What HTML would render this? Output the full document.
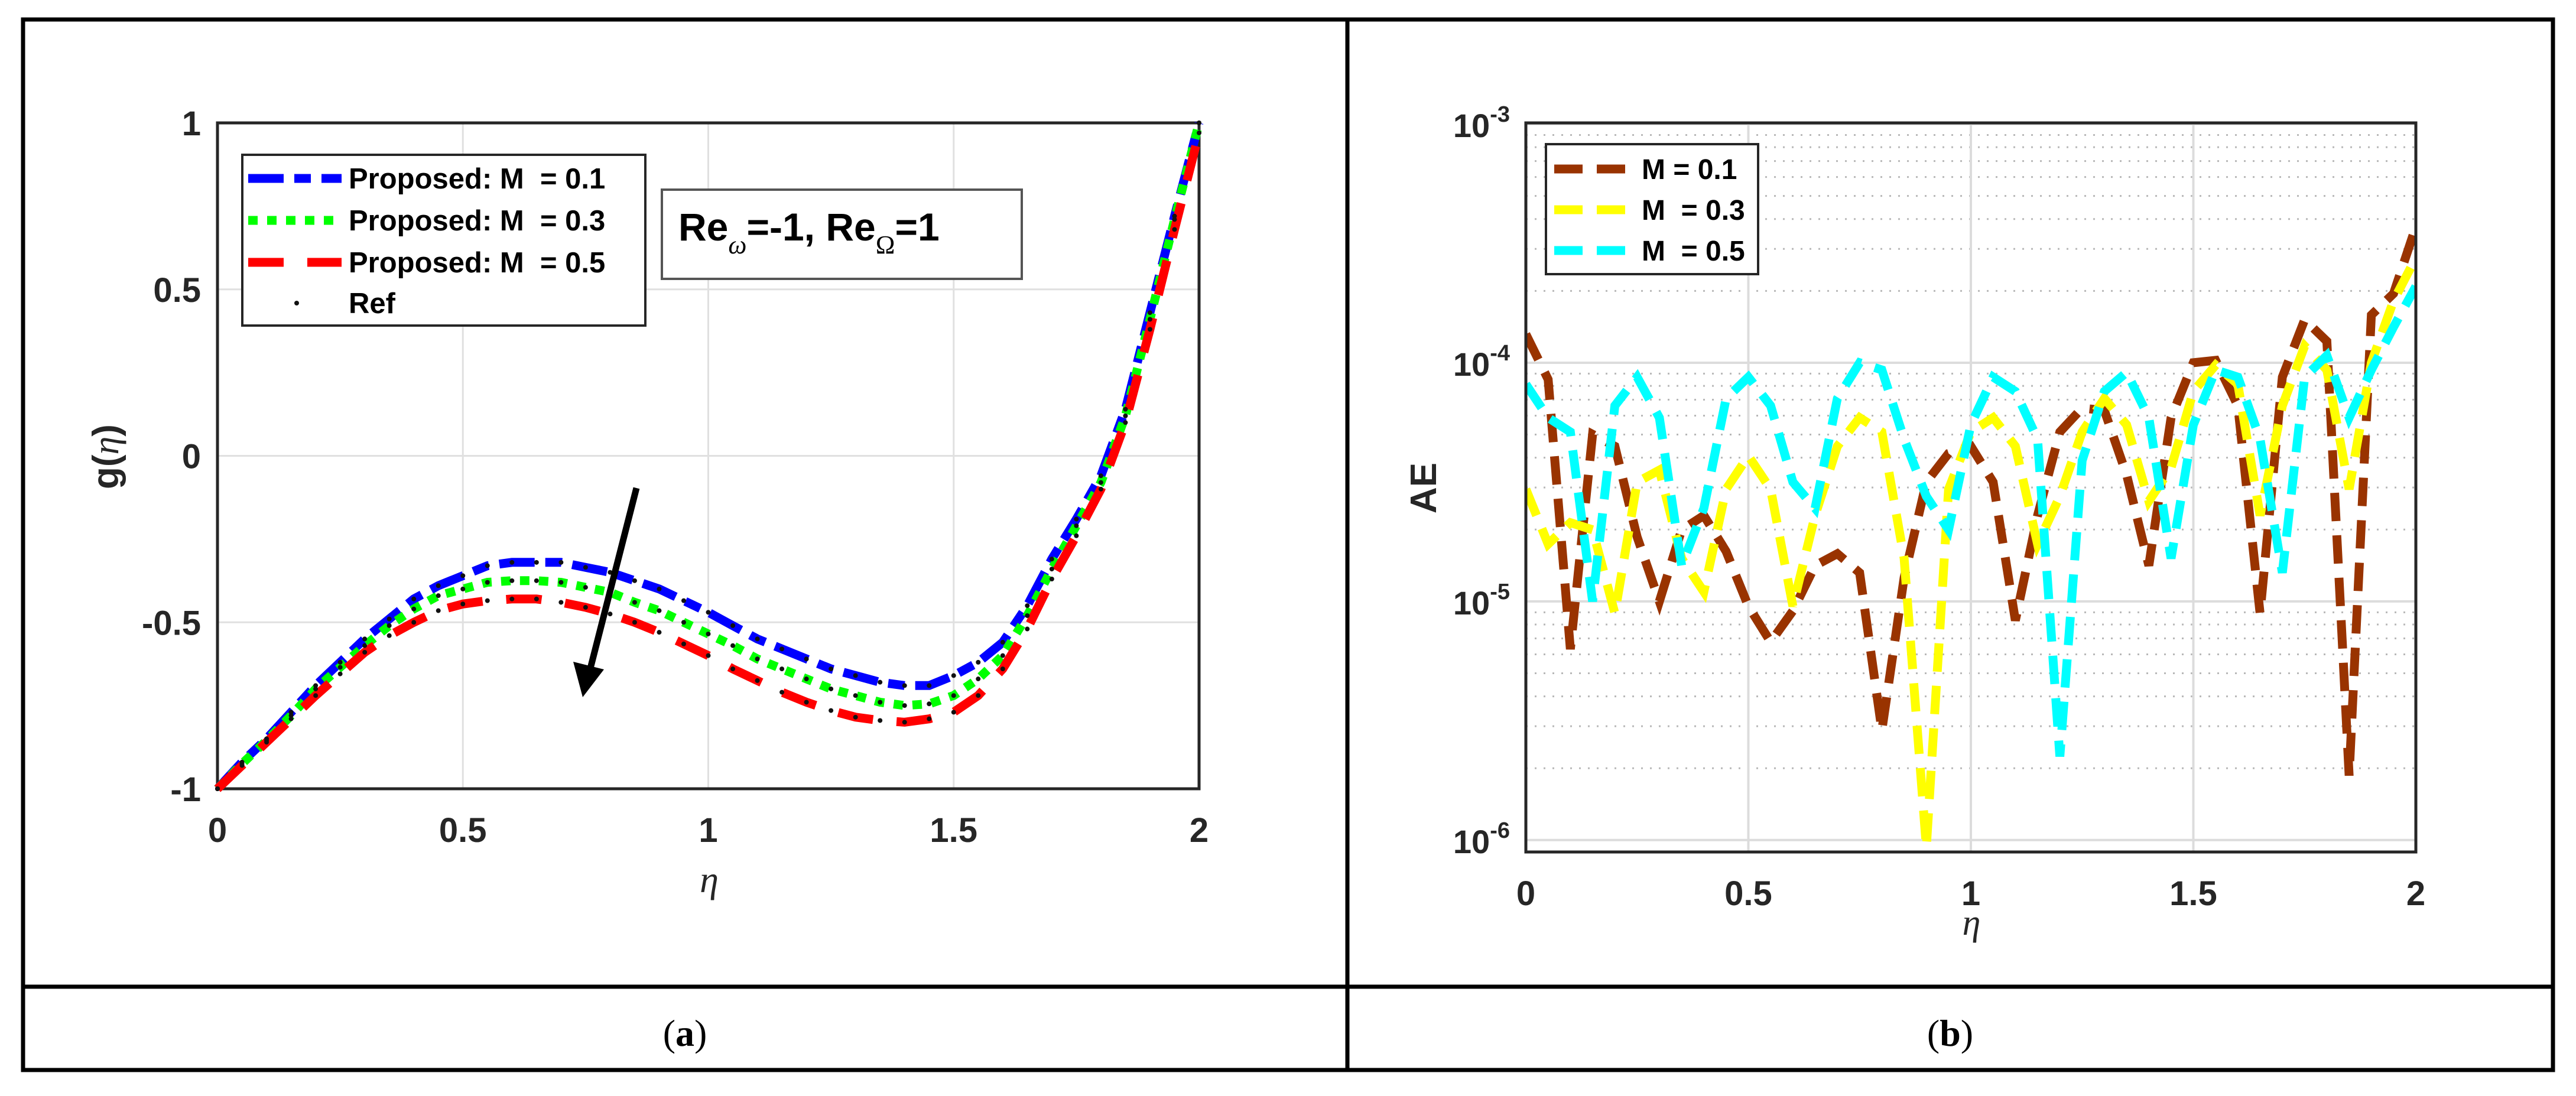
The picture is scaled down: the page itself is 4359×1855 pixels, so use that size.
<!DOCTYPE html>
<html><head><meta charset="utf-8"><style>
html,body{margin:0;padding:0;background:#fff;}
svg text{font-family:"Liberation Sans",sans-serif;white-space:pre;}
</style></head><body>
<svg id="fig" width="4359" height="1850" viewBox="0 0 4359 1850" xmlns="http://www.w3.org/2000/svg">
<rect x="0" y="0" width="4359" height="1850" fill="#fff"/>
<g id="frame" stroke="#000" stroke-width="7" fill="none">
<rect x="39" y="33" width="4281" height="1778"/>
<line x1="2280" y1="33" x2="2280" y2="1811"/>
<line x1="39" y1="1670" x2="4320" y2="1670"/>
</g>
<text x="1159" y="1770" text-anchor="middle" font-size="64" style="font-family:'Liberation Serif',serif">(<tspan font-weight="bold">a</tspan>)</text>
<text x="3300" y="1770" text-anchor="middle" font-size="64" style="font-family:'Liberation Serif',serif">(<tspan font-weight="bold">b</tspan>)</text>
<g id="plotA"></g>
<g id="plotB"></g>
</svg>
<script>
// ---------- Chart (a) data ----------
const etaA = [0,0.05,0.1,0.15,0.2,0.25,0.3,0.35,0.4,0.45,0.5,0.55,0.6,0.65,0.7,0.75,0.8,0.85,0.9,0.95,1.0,1.05,1.1,1.15,1.2,1.25,1.3,1.35,1.4,1.45,1.5,1.55,1.6,1.65,1.7,1.75,1.8,1.85,1.9,1.95,2.0];
const gM01 = [-1,-0.92,-0.85,-0.77,-0.69,-0.62,-0.55,-0.49,-0.43,-0.39,-0.36,-0.33,-0.32,-0.32,-0.32,-0.335,-0.35,-0.375,-0.40,-0.435,-0.47,-0.51,-0.55,-0.58,-0.61,-0.64,-0.66,-0.68,-0.69,-0.69,-0.66,-0.62,-0.56,-0.45,-0.31,-0.19,-0.06,0.14,0.43,0.72,1.0];
const gM03 = [-1,-0.925,-0.855,-0.78,-0.70,-0.635,-0.57,-0.51,-0.46,-0.42,-0.40,-0.38,-0.375,-0.375,-0.38,-0.395,-0.41,-0.44,-0.465,-0.50,-0.535,-0.57,-0.61,-0.64,-0.67,-0.70,-0.72,-0.74,-0.75,-0.745,-0.72,-0.67,-0.60,-0.48,-0.34,-0.21,-0.08,0.12,0.41,0.71,1.0];
const gM05 = [-1,-0.93,-0.86,-0.79,-0.72,-0.655,-0.59,-0.54,-0.50,-0.465,-0.445,-0.435,-0.43,-0.43,-0.44,-0.455,-0.475,-0.50,-0.53,-0.565,-0.60,-0.64,-0.675,-0.71,-0.74,-0.765,-0.785,-0.795,-0.80,-0.79,-0.77,-0.72,-0.64,-0.52,-0.37,-0.24,-0.10,0.10,0.38,0.68,0.97];
const xTicksA = [0,0.5,1,1.5,2];
const xTickLabelsA = ["0","0.5","1","1.5","2"];
const yTicksA = [-1,-0.5,0,0.5,1];
const yTickLabelsA = ["-1","-0.5","0","0.5","1"];

// ---------- Chart (b) data (log10 of AE) ----------
const etaB = etaA;
const log10AE_M01 = [-3.88,-4.07,-5.2,-4.3,-4.35,-4.73,-5.0,-4.70,-4.64,-4.79,-5.02,-5.17,-5.04,-4.85,-4.80,-4.88,-5.54,-4.9,-4.5,-4.38,-4.35,-4.5,-5.08,-4.64,-4.29,-4.19,-4.2,-4.47,-4.85,-4.23,-4.0,-3.99,-4.18,-5.05,-4.06,-3.82,-3.91,-5.73,-3.80,-3.71,-3.43];
const log10AE_M03 = [-4.53,-4.76,-4.67,-4.7,-5.05,-4.5,-4.45,-4.82,-4.96,-4.53,-4.39,-4.53,-5.02,-4.64,-4.35,-4.23,-4.29,-4.82,-6.03,-4.53,-4.29,-4.23,-4.35,-4.76,-4.56,-4.29,-4.15,-4.26,-4.58,-4.44,-4.12,-4.01,-4.09,-4.64,-4.18,-3.93,-4.03,-4.53,-4.0,-3.74,-3.56];
const log10AE_M05 = [-4.09,-4.23,-4.29,-5.0,-4.18,-4.06,-4.23,-4.85,-4.61,-4.15,-4.06,-4.18,-4.5,-4.61,-4.15,-4.0,-4.03,-4.32,-4.56,-4.7,-4.26,-4.06,-4.12,-4.32,-5.65,-4.41,-4.12,-4.04,-4.23,-4.82,-4.26,-4.03,-4.06,-4.32,-4.88,-4.06,-3.97,-4.23,-4.03,-3.85,-3.68];
const xTicksB = [0,0.5,1,1.5,2];
const xTickLabelsB = ["0","0.5","1","1.5","2"];
const yDecadesB = [-6,-5,-4,-3];

const NS = "http://www.w3.org/2000/svg";
function mk(parent, tag, attrs, text){
  const e = document.createElementNS(NS, tag);
  for (const k in attrs) e.setAttribute(k, attrs[k]);
  if (text !== undefined) e.textContent = text;
  parent.appendChild(e);
  return e;
}

// ===== Chart A =====
(function(){
  const g = document.getElementById('plotA');
  const L=368,R=2029,T=208,B=1335;
  const xs = v => L + (v-0)/(2-0)*(R-L);
  const ys = v => B - (v-(-1))/(1-(-1))*(B-T);
  xTicksA.forEach((t,i)=>{
    const ln = mk(g,'line',{x1:xs(t),y1:T,x2:xs(t),y2:B,stroke:'#e0e0e0','stroke-width':3});
    
    
    const tk = mk(g,'text',{x:xs(t),y:1425,'text-anchor':'middle','font-size':58,'font-weight':'bold',fill:'#262626'},xTickLabelsA[i]);
    
    
  });
  yTicksA.forEach((t,i)=>{
    const ln = mk(g,'line',{x1:L,y1:ys(t),x2:R,y2:ys(t),stroke:'#e0e0e0','stroke-width':3});
    
    
    const tk = mk(g,'text',{x:340,y:ys(t)+21,'text-anchor':'end','font-size':58,'font-weight':'bold',fill:'#262626'},yTickLabelsA[i]);
    
    
  });
  const ax = mk(g,'rect',{x:L,y:T,width:R-L,height:B-T,fill:'none',stroke:'#262626','stroke-width':5});
  
  
  const series = [
    {d:gM01,c:'#0000ff',dash:'60 18 28 18',name:'line-m01'},
    {d:gM03,c:'#00ff00',dash:'16 16',name:'line-m03'},
    {d:gM05,c:'#ff0000',dash:'60 40',name:'line-m05'}
  ];
  series.forEach(s=>{
    const pts = etaA.map((x,i)=>xs(x).toFixed(1)+','+ys(s.d[i]).toFixed(1)).join(' ');
    const p = mk(g,'polyline',{points:pts,fill:'none',stroke:s.c,'stroke-width':15,'stroke-dasharray':s.dash});
    
    
  });
  series.forEach(s=>{
    etaA.forEach((x,i)=>{
      const c = mk(g,'circle',{cx:xs(x),cy:ys(s.d[i]),r:4,fill:'#111'});
      
      
    });
  });
  const ar = mk(g,'line',{x1:1077,y1:826,x2:998,y2:1135,stroke:'#000','stroke-width':11});
  
  
  const ah = mk(g,'polygon',{points:'986,1180 970,1120 1022,1133',fill:'#000'});
  
  
  const xl = mk(g,'text',{x:1200,y:1510,'text-anchor':'middle','font-size':64,'font-style':'italic',style:"font-family:'Liberation Serif',serif",fill:'#262626'},'η');
  
  
  const yl = mk(g,'text',{x:0,y:0,'text-anchor':'middle','font-size':62,'font-weight':'bold',fill:'#262626',transform:'translate(200,773) rotate(-90)'});
  
  
  yl.innerHTML = 'g(<tspan style="font-family:\'Liberation Serif\',serif" font-style="italic" font-weight="normal">η</tspan>)';
  const lg = mk(g,'g',{});
  
  
  mk(lg,'rect',{x:410,y:262,width:682,height:289,fill:'#fff',stroke:'#262626','stroke-width':4});
  const rows=[302,373,444,513];
  const labels=['Proposed: M  = 0.1','Proposed: M  = 0.3','Proposed: M  = 0.5','Ref'];
  series.forEach((s,i)=>{
    const l = mk(lg,'line',{x1:420,y1:rows[i],x2:578,y2:rows[i],stroke:s.c,'stroke-width':15,'stroke-dasharray':s.dash});
    
    
  });
  mk(lg,'circle',{cx:502,cy:rows[3],r:4,fill:'#111'});
  labels.forEach((t,i)=>{
    const e = mk(lg,'text',{x:590,y:rows[i]+17,'font-size':49,'font-weight':'bold',fill:'#000'},t);
    
    
  });
  const an = mk(g,'g',{});
  
  
  mk(an,'rect',{x:1120,y:321,width:609,height:151,fill:'#fff',stroke:'#555','stroke-width':4});
  const at = mk(an,'text',{x:1148,y:407,'font-size':66,'font-weight':'bold',fill:'#000'});
  at.innerHTML = 'Re<tspan dy="22" font-size="44" font-style="italic" font-weight="normal" style="font-family:\'Liberation Serif\',serif">ω</tspan><tspan dy="-22">=-1, Re</tspan><tspan dy="22" font-size="44" font-weight="normal" style="font-family:\'Liberation Serif\',serif">Ω</tspan><tspan dy="-22">=1</tspan>';
})();

// ===== Chart B =====
(function(){
  const g = document.getElementById('plotB');
  const L=2582,R=4088,T=208,B=1442;
  const yMin=-6.05,yMax=-2.995;
  const xs = v => L + v/2*(R-L);
  const ys = lv => B - (lv-yMin)/(yMax-yMin)*(B-T);
  for (let d=-6; d<-3; d++){
    for (let m=2;m<=9;m++){
      const lv = d+Math.log10(m);
      const ln = mk(g,'line',{x1:L,y1:ys(lv),x2:R,y2:ys(lv),stroke:'#b8b8b8','stroke-width':3,'stroke-dasharray':'3 12'});
      
      
    }
  }
  yDecadesB.forEach(d=>{
    const ln = mk(g,'line',{x1:L,y1:ys(d),x2:R,y2:ys(d),stroke:'#dcdcdc','stroke-width':4});
    
    
    const tx = mk(g,'text',{x:2555,y:ys(d)+22,'text-anchor':'end','font-size':56,'font-weight':'bold',fill:'#262626'});
    
    
    tx.innerHTML = '10<tspan dy="-26" font-size="38">'+d+'</tspan>';
  });
  xTicksB.forEach((t,i)=>{
    const ln = mk(g,'line',{x1:xs(t),y1:T,x2:xs(t),y2:B,stroke:'#dcdcdc','stroke-width':4});
    
    
    const tk = mk(g,'text',{x:xs(t),y:1532,'text-anchor':'middle','font-size':58,'font-weight':'bold',fill:'#262626'},xTickLabelsB[i]);
    
    
  });
  const series = [
    {d:log10AE_M01,c:'#993300',name:'line-ae-m01'},
    {d:log10AE_M03,c:'#ffff00',name:'line-ae-m03'},
    {d:log10AE_M05,c:'#00ffff',name:'line-ae-m05'}
  ];
  const clip = mk(g,'clipPath',{id:'clipB'});
  mk(clip,'rect',{x:L,y:T,width:R-L,height:B-T});
  series.forEach(s=>{
    const pts = etaB.map((x,i)=>xs(x).toFixed(1)+','+ys(s.d[i]).toFixed(1)).join(' ');
    const p = mk(g,'polyline',{points:pts,fill:'none',stroke:s.c,'stroke-width':15,'stroke-dasharray':'48 24','clip-path':'url(#clipB)'});
    
    
  });
  const ax = mk(g,'rect',{x:L,y:T,width:R-L,height:B-T,fill:'none',stroke:'#262626','stroke-width':5});
  
  
  const xl = mk(g,'text',{x:3336,y:1582,'text-anchor':'middle','font-size':62,'font-style':'italic',style:"font-family:'Liberation Serif',serif",fill:'#262626'},'η');
  
  
  const yl = mk(g,'text',{x:0,y:0,'text-anchor':'middle','font-size':62,'font-weight':'bold',fill:'#262626',transform:'translate(2430,826) rotate(-90)'},'AE');
  
  
  const lg = mk(g,'g',{});
  
  
  mk(lg,'rect',{x:2616,y:244,width:359,height:220,fill:'#fff',stroke:'#262626','stroke-width':4});
  const rows=[286,355,424];
  const labels=['M = 0.1','M  = 0.3','M  = 0.5'];
  series.forEach((s,i)=>{
    const l = mk(lg,'line',{x1:2630,y1:rows[i],x2:2752,y2:rows[i],stroke:s.c,'stroke-width':15,'stroke-dasharray':'48 24'});
    
    
    const e = mk(lg,'text',{x:2778,y:rows[i]+17,'font-size':48,'font-weight':'bold',fill:'#000'},labels[i]);
    
    
  });
})();
</script>
</body></html>
